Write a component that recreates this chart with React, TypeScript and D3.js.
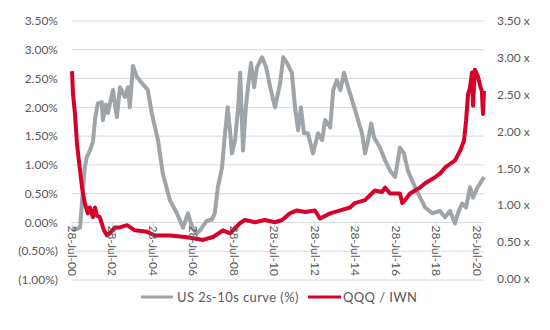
import React from "react";
import * as d3 from "d3";

// US 2s-10s curve (%) — left axis
const curveDates = [
  "2000-07-28","2000-10-01","2000-12-20","2001-02-10","2001-03-15","2001-04-20","2001-06-15","2001-08-10","2001-09-15","2001-11-05",
  "2002-01-15","2002-02-05","2002-04-01","2002-05-05","2002-08-05","2002-10-15","2002-12-10","2003-03-10","2003-05-05","2003-06-05",
  "2003-08-01","2003-10-10","2004-01-10","2004-04-25","2004-07-05","2004-10-25","2005-01-20","2005-05-30","2005-10-01","2006-01-20",
  "2006-04-20","2006-07-01","2006-09-25","2006-11-20","2007-03-25","2007-06-25","2007-08-15","2007-10-10","2007-12-25","2008-02-15",
  "2008-04-05","2008-05-15","2008-06-20","2008-08-15","2008-10-10","2008-11-15","2009-01-05","2009-02-25","2009-04-05","2009-05-30",
  "2009-07-25","2009-09-15","2009-12-15","2010-02-25","2010-05-10","2010-08-05","2010-11-05","2011-01-01","2011-03-10","2011-06-05",
  "2011-08-01","2011-09-25","2011-11-15","2012-01-10","2012-03-20","2012-06-20","2012-09-20","2012-12-01","2013-01-25","2013-04-25",
  "2013-06-20","2013-08-25","2013-10-25","2014-01-01","2014-03-15","2014-05-25","2014-09-10","2014-11-20","2015-01-15","2015-03-10",
  "2015-05-05","2015-06-25","2015-10-10","2016-01-10","2016-04-10","2016-07-10","2016-10-05","2016-12-15","2017-02-25","2017-05-10",
  "2017-08-30","2018-01-01","2018-05-10","2018-09-25","2018-12-25","2019-03-25","2019-06-25","2019-08-15","2019-10-30","2020-01-10",
  "2020-03-20","2020-05-15","2020-07-28","2020-09-20","2020-11-28"
];
const curveValues = [
  -0.10,-0.12,-0.09,0.56,0.95,1.13,1.25,1.40,1.78,2.07,
  2.09,1.78,2.05,1.90,2.30,1.83,2.35,2.18,2.35,2.00,
  2.72,2.53,2.42,2.30,1.90,1.43,0.85,0.38,0.16,-0.09,
  0.16,-0.09,-0.19,-0.14,0.03,0.05,0.16,0.61,0.96,1.55,
  2.00,1.60,1.20,1.43,2.00,2.60,1.25,2.00,2.35,2.77,
  2.35,2.70,2.87,2.70,2.35,2.00,2.42,2.87,2.77,2.60,
  2.00,1.60,2.00,1.55,1.55,1.20,1.55,1.43,1.78,1.65,
  2.30,2.47,2.30,2.60,2.35,2.13,1.78,1.55,1.20,1.43,
  1.72,1.48,1.30,1.08,0.90,0.79,1.30,1.20,0.90,0.73,
  0.50,0.26,0.16,0.20,0.09,0.20,-0.02,0.16,0.33,0.26,
  0.61,0.43,0.60,0.68,0.79
];

// QQQ / IWN — right axis
const ratioDates = [
  "2000-07-28","2000-08-15","2000-09-20","2000-10-25","2000-12-20","2001-01-25","2001-03-15","2001-05-10","2001-06-15","2001-08-10",
  "2001-09-15","2001-10-20","2001-12-10","2002-02-25","2002-04-20","2002-06-10","2002-09-10","2002-12-10","2003-04-15","2003-09-05",
  "2004-04-10","2004-09-01","2005-05-30","2006-02-25","2006-08-20","2007-01-15","2007-07-15","2008-01-10","2008-05-15","2008-11-15",
  "2009-02-10","2009-08-10","2010-02-05","2010-08-05","2010-12-10","2011-05-01","2011-09-05","2012-01-30","2012-07-25","2012-10-25",
  "2013-04-25","2013-10-25","2014-04-20","2014-07-15","2015-01-15","2015-07-10","2015-11-15","2016-01-10","2016-04-10","2016-10-05",
  "2016-11-15","2017-01-05","2017-04-05","2017-07-05","2017-10-01","2018-01-01","2018-04-01","2018-07-01","2018-09-25","2018-12-25",
  "2019-03-25","2019-06-25","2019-09-25","2019-12-05","2020-01-10","2020-02-15","2020-03-20","2020-04-25","2020-05-15","2020-06-15",
  "2020-08-10","2020-09-20","2020-10-20","2020-11-10","2020-11-28"
];
const ratioValues = [
  2.82,2.51,2.24,1.84,1.47,1.24,1.03,0.89,0.97,0.84,
  0.97,0.86,0.84,0.66,0.59,0.62,0.70,0.70,0.73,0.66,
  0.64,0.59,0.59,0.57,0.55,0.53,0.57,0.66,0.62,0.76,
  0.80,0.77,0.80,0.77,0.80,0.89,0.93,0.91,0.93,0.82,
  0.89,0.93,0.97,1.03,1.07,1.20,1.18,1.24,1.16,1.16,
  1.03,1.07,1.16,1.20,1.24,1.30,1.34,1.38,1.43,1.51,
  1.56,1.61,1.74,1.88,2.15,2.51,2.59,2.80,2.35,2.84,
  2.75,2.62,2.55,2.24,2.55
];

const leftTicks = [-1, -0.5, 0, 0.5, 1, 1.5, 2, 2.5, 3, 3.5];
const rightTicks = [0, 0.5, 1, 1.5, 2, 2.5, 3, 3.5];
const xTickYears = [2000, 2002, 2004, 2006, 2008, 2010, 2012, 2014, 2016, 2018, 2020];
const seriesNames = ["US 2s-10s curve (%)", "QQQ / IWN"];

const W = 550, H = 330;
const FONT = "Lato, 'Liberation Sans', sans-serif";
const TEXT = "#595959";
const GRID = "#d9d9d9";
const GRAY = "#9ea4a7";
const RED = "#d7002a";

export default function App() {
  const parse = d3.timeParse("%Y-%m-%d");
  const x = d3.scaleTime()
    .domain([parse("2000-07-28")!, parse("2020-11-28")!])
    .range([72, 484]);
  const yL = d3.scaleLinear().domain([-1, 3.5]).range([280, 21]);
  const yR = d3.scaleLinear().domain([0, 3.5]).range([279, 21]);

  const curveData = curveDates.map((d, i) => ({ d: parse(d)!, v: curveValues[i] }));
  const ratioData = ratioDates.map((d, i) => ({ d: parse(d)!, v: ratioValues[i] }));

  const lineL = d3.line<{ d: Date; v: number }>().x((p) => x(p.d)).y((p) => yL(p.v));
  const lineR = d3.line<{ d: Date; v: number }>().x((p) => x(p.d)).y((p) => yR(p.v));

  const fmtL = (v: number) => {
    const s = Math.abs(v).toFixed(2) + "%";
    return v < 0 ? `(${s})` : s;
  };
  const fmtR = (v: number) => v.toFixed(2) + " x";
  const fmtX = d3.timeFormat("%d-%b-%y");
  const tickDates = xTickYears.map((y) => new Date(y, 6, 28));
  const [x0, x1] = x.range();

  return (
    <svg width={W} height={H} style={{ position: "absolute", left: 0, top: 0, background: "#fff" }}
      fontFamily={FONT}>
      {leftTicks.map((t) => (
        <line key={"g" + t} x1={x0} x2={x1} y1={yL(t)} y2={yL(t)} stroke={GRID} strokeWidth={1} />
      ))}
      {leftTicks.map((t) => (
        <text key={"l" + t} x={58} y={yL(t)} dy="0.35em" textAnchor="end" fontSize={12} fill={TEXT}>
          {fmtL(t)}
        </text>
      ))}
      {rightTicks.map((t) => (
        <text key={"r" + t} x={497} y={yR(t)} dy="0.35em" textAnchor="start" fontSize={12} fill={TEXT}>
          {fmtR(t)}
        </text>
      ))}
      {tickDates.map((d, i) => (
        <line key={"t" + i} x1={x(d)} x2={x(d)} y1={yL(0)} y2={yL(0) + 5} stroke={GRID} strokeWidth={1} />
      ))}
      <path d={lineL(curveData)!} fill="none" stroke={GRAY} strokeWidth={4} strokeLinejoin="round" />
      <path d={lineR(ratioData)!} fill="none" stroke={RED} strokeWidth={4} strokeLinejoin="round" />
      {tickDates.map((d, i) => (
        <text key={"x" + i} transform={`translate(${x(d)},${yL(0) + 3}) rotate(90)`}
          dominantBaseline="central" textAnchor="start" fontSize={12} fill={TEXT}>
          {fmtX(d)}
        </text>
      ))}
      <line x1={141} x2={173} y1={297} y2={297} stroke={GRAY} strokeWidth={3} />
      <text x={177} y={297} dy="0.35em" fontSize={13} letterSpacing={0.4} fill={TEXT}>{seriesNames[0]}</text>
      <line x1={308} x2={341} y1={297} y2={297} stroke={RED} strokeWidth={3} />
      <text x={343} y={297} dy="0.35em" fontSize={13} letterSpacing={0.4} fill={TEXT}>{seriesNames[1]}</text>
    </svg>
  );
}
